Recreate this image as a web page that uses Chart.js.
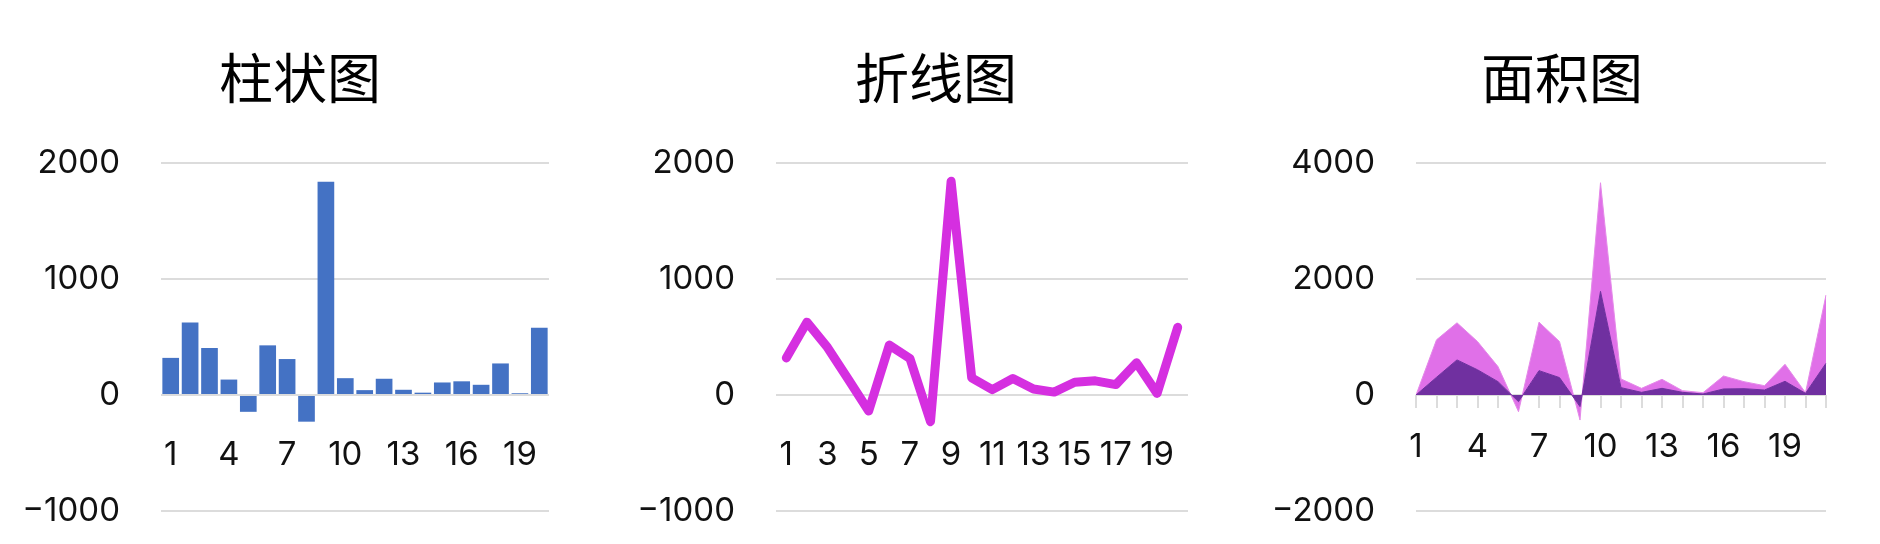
<!DOCTYPE html>
<html>
<head>
<meta charset="utf-8">
<script src="https://cdn.jsdelivr.net/npm/chart.js@4.4.1/dist/chart.umd.min.js"></script>
<style>
  html, body { margin: 0; padding: 0; background: #fff; }
  body { width: 1880px; height: 544px; position: relative; overflow: hidden; }
  canvas { position: absolute; top: 0; }
  .title {
    position: absolute; top: 43.6px; width: 400px; height: 64.8px;
    line-height: 64.8px; text-align: center; color: #000;
    font-family: "Noto Sans CJK SC", sans-serif; font-size: 54px; font-weight: normal;
  }
</style>
</head>
<body>
<div class="title" style="left:100px">柱状图</div>
<div class="title" style="left:736px">折线图</div>
<div class="title" style="left:1362px">面积图</div>
<canvas id="barChart" width="600" height="544" style="left:0px"></canvas>
<canvas id="lineChart" width="600" height="544" style="left:620px"></canvas>
<canvas id="areaChart" width="600" height="544" style="left:1254px"></canvas>
<script>
const barLabels = ['1', '2', '3', '4', '5', '6', '7', '8', '9', '10',
    '11', '12', '13', '14', '15', '16', '17', '18', '19', '20'];
const barValues = [320, 625, 405, 133, -145, 428, 310, -230, 1838, 145,
    42, 140, 45, 20, 108, 118, 88, 272, 15, 580];

const lineLabels = barLabels;
const lineValues = [320, 628, 410, 138, -138, 430, 315, -230, 1842, 148,
    46, 142, 52, 25, 110, 122, 90, 278, 14, 583];

const areaLabels = ['1', '2', '3', '4', '5', '6', '7', '8', '9', '10', '11',
    '12', '13', '14', '15', '16', '17', '18', '19', '20', '21'];
const areaLower = [0, 305, 605, 435, 230, -115, 420, 300, -200, 1787, 127,
    46, 115, 46, 17, 104, 109, 86, 236, 29, 547];
const areaUpper = [0, 646, 640, 487, 260, -173, 836, 622, -232, 1873, 150,
    69, 156, 29, 23, 224, 121, 75, 294, 11, 1176];

const smallTicks = [2000, 1000, 0, -1000];
const bigTicks = [4000, 2000, 0, -2000];

Chart.defaults.font.family = 'Inter, "Noto Sans CJK SC", sans-serif';
Chart.defaults.font.size = 33;
Chart.defaults.color = '#111';
Chart.defaults.animation = false;

const gridGray = '#dcdcdc';
const noPlugins = { legend: { display: false }, tooltip: { enabled: false } };

// negative numbers get a real minus sign, no thousands separator
const fmt = (v) => (v < 0 ? '\u2212' + Math.abs(v) : String(v));

function yScale(ticks, axisWidth) {
    return {
        min: ticks[ticks.length - 1],
        max: ticks[0],
        afterFit: (scale) => {
            scale.width = axisWidth;
            // tick padding must not push the plot area in from top/bottom
            scale.paddingTop = 0;
            scale.paddingBottom = 0;
        },
        afterBuildTicks: (scale) => {
            scale.ticks = ticks.slice().reverse().map(v => ({ value: v }));
        },
        border: { display: false },
        grid: { color: gridGray, lineWidth: 2, drawTicks: false },
        ticks: { padding: 41, callback: fmt }
    };
}

function xScale(labels, every, offset, tickMarks) {
    return {
        offset: offset,
        position: { y: 0 },
        afterFit: (scale) => { scale.height = 0; },
        border: { display: false },
        grid: tickMarks ? {
            display: true,
            drawOnChartArea: false,
            drawTicks: true,
            tickLength: 13,
            color: gridGray,
            lineWidth: 2
        } : { display: false },
        ticks: {
            autoSkip: false,
            maxRotation: 0,
            padding: tickMarks ? 19 : 32,
            callback: (v, i) => (i % every === 0 ? labels[i] : '')
        }
    };
}

new Chart(document.getElementById('barChart'), {
    type: 'bar',
    data: {
        labels: barLabels,
        datasets: [{
            data: barValues,
            backgroundColor: '#4472c4',
            categoryPercentage: 1,
            barPercentage: 0.86
        }]
    },
    options: {
        responsive: false,
        layout: { padding: { left: 10, right: 51, top: 163, bottom: 33 } },
        plugins: noPlugins,
        scales: {
            x: xScale(barLabels, 3, true, false),
            y: yScale(smallTicks, 151)
        }
    }
});

new Chart(document.getElementById('lineChart'), {
    type: 'line',
    data: {
        labels: lineLabels,
        datasets: [{
            data: lineValues,
            borderColor: '#d52fe0',
            borderWidth: 9,
            borderJoinStyle: 'round',
            borderCapStyle: 'round',
            pointRadius: 0,
            tension: 0,
            fill: false
        }]
    },
    options: {
        responsive: false,
        layout: { padding: { left: 5, right: 32, top: 163, bottom: 33 } },
        plugins: noPlugins,
        scales: {
            x: xScale(lineLabels, 2, true, false),
            y: yScale(smallTicks, 151)
        }
    }
});

const areaY = yScale(bigTicks, 157);
areaY.stacked = true;

new Chart(document.getElementById('areaChart'), {
    type: 'line',
    data: {
        labels: areaLabels,
        datasets: [{
            data: areaLower,
            backgroundColor: '#7030a0',
            borderColor: '#7030a0',
            borderWidth: 1,
            pointRadius: 0,
            tension: 0,
            fill: 'origin'
        }, {
            data: areaUpper,
            backgroundColor: '#e070e8',
            borderColor: '#e48ae9',
            borderWidth: 1,
            pointRadius: 0,
            tension: 0,
            fill: '-1'
        }]
    },
    options: {
        responsive: false,
        layout: { padding: { left: 5, right: 28, top: 163, bottom: 33 } },
        plugins: noPlugins,
        scales: {
            x: xScale(areaLabels, 3, false, true),
            y: areaY
        }
    }
});
</script>
</body>
</html>
